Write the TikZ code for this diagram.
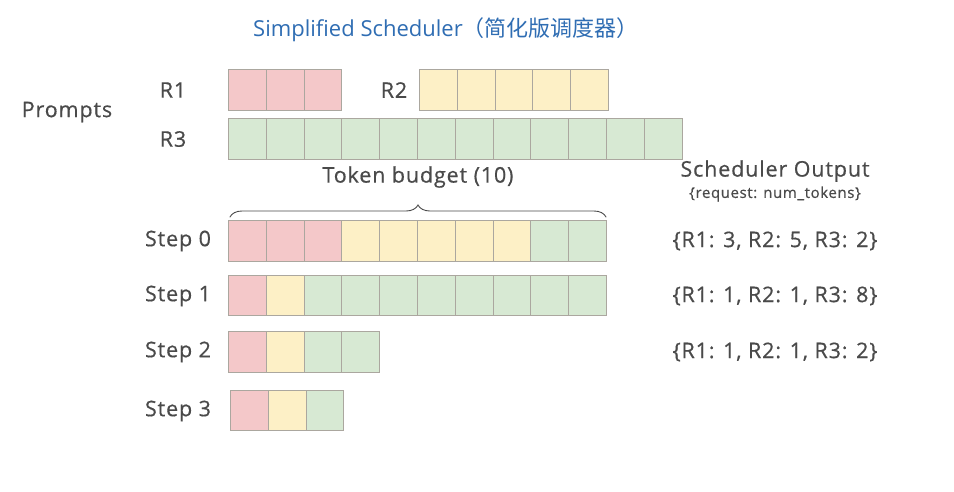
\documentclass[tikz,border=0pt]{standalone}
\usepackage{fontspec}
\setmainfont[LetterSpace=4,FakeBold=0.5]{Open Sans}
\newfontfamily\titlefont{Open Sans}
\newfontfamily\cjk{Noto Sans CJK SC}
\usetikzlibrary{decorations.pathreplacing}
\definecolor{pk}{HTML}{F4C8C9}
\definecolor{yl}{HTML}{FDF0C6}
\definecolor{gr}{HTML}{D7E9D3}
\definecolor{cellborder}{HTML}{ABA79F}
\definecolor{txt}{HTML}{4A4A4A}
\definecolor{ttl}{HTML}{2F6DB3}
\begin{document}
\begin{tikzpicture}[x=1pt,y=-1pt,
  cell/.style={draw=cellborder,line width=0.9pt,minimum width=37.8pt,minimum height=40.5pt,inner sep=0pt,anchor=north west},
  lbl/.style={text=txt,font=\fontsize{21.5}{24}\selectfont,inner sep=0pt},
  outp/.style={text=txt,font=\fontsize{21.5}{24}\selectfont,inner sep=0pt}]
\useasboundingbox[fill=white] (0,0) rectangle (954,491);
% title
\node[text=ttl,font=\titlefont\fontsize{22}{25}\selectfont,inner sep=0pt] (title) at (446,30) {Simplified Scheduler{\cjk （简化版调度器）}};
% prompts
\node[lbl] (prompts) at (67,112) {Prompts};
\node[lbl] (r1) at (173,90) {R1};
\node[lbl] (r2) at (394,90) {R2};
\node[lbl] (r3) at (173,139) {R3};
\foreach \i in {0,1,2} \node[cell,fill=pk] (p1c\i) at (228+\i*37.8,69) {};
\foreach \i in {0,...,4} \node[cell,fill=yl] (p2c\i) at (419+\i*37.8,69) {};
\foreach \i in {0,...,11} \node[cell,fill=gr] (p3c\i) at (228+\i*37.8,118) {};
% token budget
\coordinate (bl) at (230,217);
\coordinate (br) at (606,217);
\draw[txt,line width=0.9pt,line cap=round,decorate,decoration={brace,amplitude=12pt}] (bl) -- (br);
\node[lbl] (budget) at (418,177) {Token budget (10)};
% steps
\node[lbl] (st0) at (178,241) {Step 0};
\node[lbl] (st1) at (178,296) {Step 1};
\node[lbl] (st2) at (178,352) {Step 2};
\node[lbl] (st3) at (178,411) {Step 3};
\foreach \c [count=\i from 0] in {pk,pk,pk,yl,yl,yl,yl,yl,gr,gr}
  \node[cell,fill=\c] (s0c\i) at (228+\i*37.8,220) {};
\foreach \c [count=\i from 0] in {pk,yl,gr,gr,gr,gr,gr,gr,gr,gr}
  \node[cell,fill=\c] (s1c\i) at (228+\i*37.8,274.5) {};
\foreach \c [count=\i from 0] in {pk,yl,gr,gr}
  \node[cell,fill=\c] (s2c\i) at (228+\i*37.8,331) {};
\foreach \c [count=\i from 0] in {pk,yl,gr}
  \node[cell,fill=\c] (s3c\i) at (230+\i*37.8,389.5) {};
% scheduler output
\node[lbl] (so) at (775,171) {Scheduler Output};
\node[text=txt,font=\fontsize{15}{17}\selectfont,inner sep=0pt] (sosub) at (775,194) {\{request: num\_tokens\}};
\node[outp] (o0) at (775,241) {\{R1: 3, R2: 5, R3: 2\}};
\node[outp] (o1) at (775,296) {\{R1: 1, R2: 1, R3: 8\}};
\node[outp] (o2) at (775,352) {\{R1: 1, R2: 1, R3: 2\}};
\end{tikzpicture}
\end{document}
